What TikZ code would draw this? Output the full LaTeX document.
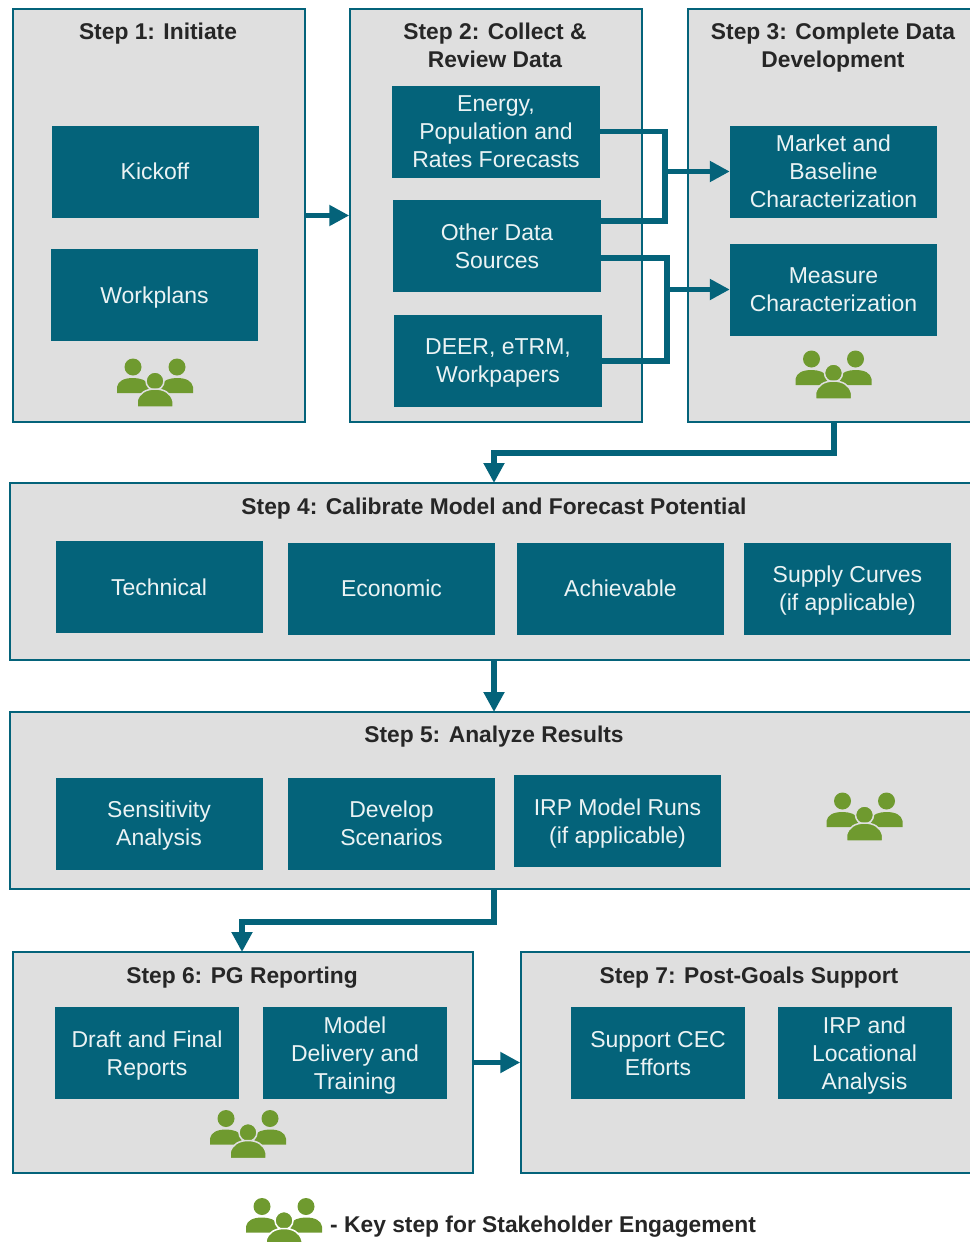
\documentclass[tikz,border=0pt]{standalone}
\usepackage{fontspec}
\setmainfont{Liberation Sans}
\usetikzlibrary{arrows.meta}
\definecolor{tealbox}{HTML}{04637A}
\definecolor{panelgray}{HTML}{DFDFDF}
\definecolor{peoplegreen}{HTML}{6F9A2F}
\definecolor{titleink}{HTML}{262626}
\tikzset{
  pics/people/.style={code={
    \fill [peoplegreen] (-22,-16) circle (8.5);
    \fill [peoplegreen] (22,-16) circle (8.5);
    \fill [peoplegreen] (-38,10) -- (-38,4) .. controls (-37,-2) and (-31,-5) .. (-22,-5) .. controls (-15,-5) and (-9,-3) .. (-5,2) -- (-8,10) -- cycle;
    \fill [peoplegreen] (38,10) -- (38,4) .. controls (37,-2) and (31,-5) .. (22,-5) .. controls (15,-5) and (9,-3) .. (5,2) -- (8,10) -- cycle;
    \filldraw [peoplegreen, draw=#1, line width=1.5] (0,-2) circle (9);
    \filldraw [peoplegreen, draw=#1, line width=1.5] (-18,24) -- (-18,18) .. controls (-16,10) and (-9,6) .. (0,6) .. controls (9,6) and (16,10) .. (18,18) -- (18,24) -- cycle;
  }}
}
\begin{document}
\begin{tikzpicture}[x=1pt,y=-1pt]
  \tikzstyle{textprops}=[inner sep=0pt, align=center, execute at begin node={\rule{0pt}{22pt}}, execute at end node={\rule[-6pt]{0pt}{6pt}}]
  \tikzstyle{twolines}=[execute at begin node={\rule{0pt}{50pt}}]
  \tikzstyle{threelines}=[execute at begin node={\rule{0pt}{78pt}}]
  \tikzstyle{panel}=[draw=tealbox, fill=panelgray, line width=1.5pt, inner sep=0pt]
  \tikzstyle{task}=[textprops, fill=tealbox, text=white!92!tealbox, minimum width=207pt, minimum height=92pt, font=\fontsize{23}{28}\selectfont]
  \tikzstyle{steptitle}=[textprops, text=titleink, font=\fontsize{22.8}{28}\selectfont\bfseries]
  \tikzstyle{flow}=[draw=tealbox, line width=5.5pt]
  \tikzstyle{flowarrow}=[flow, -{Triangle[length=20pt,width=20pt]}]
  \useasboundingbox (0,0) rectangle (969,1242);

  \node [panel, minimum width=292pt, minimum height=413pt] (panelone) at (159,215.5) {};
  \node [panel, minimum width=292pt, minimum height=413pt] (paneltwo) at (496,215.5) {};
  \node [panel, minimum width=287pt, minimum height=413pt] (panelthree) at (831.5,215.5) {};
  \node [panel, minimum width=965pt, minimum height=177pt] (panelfour) at (492.5,571.5) {};
  \node [panel, minimum width=965pt, minimum height=177pt] (panelfive) at (492.5,800.5) {};
  \node [panel, minimum width=460pt, minimum height=221pt] (panelsix) at (243,1062.5) {};
  \node [panel, minimum width=454pt, minimum height=221pt] (panelseven) at (748,1062.5) {};

  \node [steptitle] (titleone) at (158,31) {Step 1: Initiate};
  \node [steptitle, twolines] (titletwo) at (495,45) {Step 2: Collect \&\\Review Data};
  \node [steptitle, twolines] (titlethree) at (833,45) {Step 3: Complete Data\\Development};
  \node [steptitle] (titlefour) at (494,506) {Step 4: Calibrate Model and Forecast Potential};
  \node [steptitle] (titlefive) at (494,734) {Step 5: Analyze Results};
  \node [steptitle] (titlesix) at (242,975) {Step 6: PG Reporting};
  \node [steptitle] (titleseven) at (749,975) {Step 7: Post-Goals Support};

  % connectors run under the teal boxes
  \coordinate (busa) at (665,171.5);
  \coordinate (busb) at (667,289.5);
  \coordinate (othera) at (601,221);
  \coordinate (otherb) at (601,258);
  \coordinate (deerb) at (602,361);
  \coordinate (exitthree) at (834,422);
  \coordinate (bendthree) at (494,453);
  \coordinate (enterfour) at (494,483);
  \coordinate (leavefour) at (494,660);
  \coordinate (enterfive) at (494,712);
  \coordinate (leavefive) at (494,889);
  \coordinate (bendfive) at (242,922);
  \coordinate (entersix) at (242,952);

  \node [task] (kickoff) at (155,171.5) {Kickoff};
  \node [task] (workplans) at (154.5,295) {Workplans};
  \node [task, threelines, minimum width=208pt] (energy) at (496,131.5) {Energy,\\Population and\\Rates Forecasts};
  \node [task, twolines, minimum width=208pt] (other) at (497,246) {Other Data\\Sources};
  \node [task, twolines, minimum width=208pt] (deer) at (498,360.5) {DEER, eTRM,\\Workpapers};
  \node [task, threelines] (market) at (833.5,171.5) {Market and\\Baseline\\Characterization};
  \node [task, twolines] (measure) at (833.5,289.5) {Measure\\Characterization};
  \node [task] (technical) at (159,587) {Technical};
  \node [task] (economic) at (391.5,588.5) {Economic};
  \node [task] (achievable) at (620.5,588.5) {Achievable};
  \node [task, twolines] (supply) at (847.5,588.5) {Supply Curves\\(if applicable)};
  \node [task, twolines] (sensitivity) at (159,823.5) {Sensitivity\\Analysis};
  \node [task, twolines] (scenarios) at (391.5,823.5) {Develop\\Scenarios};
  \node [task, twolines] (irpruns) at (617.5,821) {IRP Model Runs\\(if applicable)};
  \node [task, twolines, minimum width=184pt] (draft) at (147,1053) {Draft and Final\\Reports};
  \node [task, threelines, minimum width=184pt] (delivery) at (355,1053) {Model\\Delivery and\\Training};
  \node [task, twolines, minimum width=174pt] (cec) at (658,1053) {Support CEC\\Efforts};
  \node [task, threelines, minimum width=174pt] (locational) at (864.5,1053) {IRP and\\Locational\\Analysis};

  \draw [flowarrow] (panelone.east |- paneltwo.west) -- (paneltwo.west);
  \draw [flow] (energy.east) -| (busa |- othera) -- (othera);
  \draw [flowarrow] (busa) -- (market.west);
  \draw [flow] (otherb) -| (busb |- deerb) -- (deerb);
  \draw [flowarrow] (busb) -- (measure.west);
  \draw [flowarrow] (exitthree) |- (bendthree) -- (enterfour);
  \draw [flowarrow] (leavefour) -- (enterfive);
  \draw [flowarrow] (leavefive) |- (bendfive) -- (entersix);
  \draw [flowarrow] (panelsix.east) -- (panelseven.west);

  \pic at (155,383) {people=panelgray};
  \pic at (833.5,375) {people=panelgray};
  \pic at (864.5,817) {people=panelgray};
  \pic at (248,1134.5) {people=panelgray};
  \pic at (284,1222.5) {people=white};
  \node [steptitle, anchor=west] (legend) at (330,1224) {- Key step for Stakeholder Engagement};
\end{tikzpicture}
\end{document}
